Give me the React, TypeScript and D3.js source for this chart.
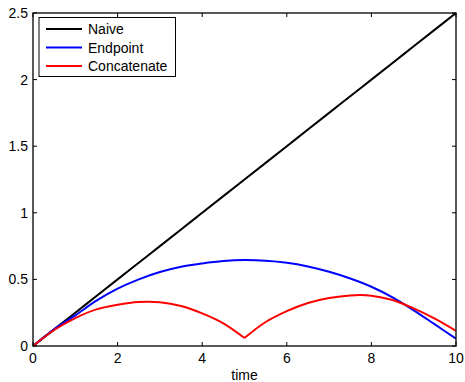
import React from "react";
import * as d3 from "d3";

const timeValues = [0, 0.5, 1, 1.5, 2, 2.5, 3, 3.5, 4, 4.5, 5, 5.5, 6, 6.5, 7, 7.5, 8, 8.5, 9, 9.5, 10];
const naiveValues = [0, 0.125, 0.25, 0.375, 0.5, 0.625, 0.75, 0.875, 1.0, 1.125, 1.25, 1.375, 1.5, 1.625, 1.75, 1.875, 2.0, 2.125, 2.25, 2.375, 2.5];
const endpointValues = [0, 0.125, 0.23, 0.34, 0.43, 0.5, 0.555, 0.595, 0.62, 0.638, 0.645, 0.64, 0.625, 0.597, 0.557, 0.507, 0.445, 0.365, 0.268, 0.162, 0.055];
const concatValues = [0, 0.12, 0.21, 0.275, 0.31, 0.33, 0.328, 0.3, 0.245, 0.17, 0.06, 0.18, 0.262, 0.323, 0.36, 0.38, 0.378, 0.345, 0.282, 0.205, 0.113];

const seriesNames = ["Naive", "Endpoint", "Concatenate"];
const seriesColors = ["#000000", "#0000ff", "#ff0000"];
const xTicks = [0, 2, 4, 6, 8, 10];
const yTicks = [0, 0.5, 1, 1.5, 2, 2.5];
const xLabel = "time";

const W = 465;
const H = 382;
const left = 33;
const right = 456;
const top = 13;
const bottom = 346;
const font = "Arial, 'Liberation Sans', Helvetica, sans-serif";

export default function App() {
  const x = d3.scaleLinear().domain([0, 10]).range([left, right]);
  const y = d3.scaleLinear().domain([0, 2.5]).range([bottom, top]);
  const line = d3
    .line<[number, number]>()
    .x((d) => x(d[0]))
    .y((d) => y(d[1]))
    .curve(d3.curveCatmullRom.alpha(0.5));
  const pts = (vals: number[]) => vals.map((v, i) => [timeValues[i], v] as [number, number]);
  const concatPts = pts(concatValues);
  const paths: { d: string; c: string }[] = [
    { d: line(pts(naiveValues)) || "", c: seriesColors[0] },
    { d: line(pts(endpointValues)) || "", c: seriesColors[1] },
    { d: (line(concatPts.filter((p) => p[0] <= 5)) || "") + (line(concatPts.filter((p) => p[0] >= 5)) || ""), c: seriesColors[2] },
  ];
  const tl = 4;

  return (
    <div style={{ position: "fixed", left: 0, top: 0 }}>
      <svg width={W} height={H} style={{ display: "block", background: "#fff" }}>
        <defs>
          <clipPath id="plot">
            <rect x={left} y={top} width={right - left} height={bottom - top} />
          </clipPath>
        </defs>
        <g clipPath="url(#plot)">
          {paths.map((p, k) => (
            <path key={k} d={p.d} fill="none" stroke={p.c} strokeWidth={2} strokeLinejoin="round" />
          ))}
        </g>
        {xTicks.map((t) => (
          <g key={"x" + t}>
            <line x1={x(t)} x2={x(t)} y1={bottom} y2={bottom - tl} stroke="#000" strokeWidth={1} />
            <line x1={x(t)} x2={x(t)} y1={top} y2={top + tl} stroke="#000" strokeWidth={1} />
            <text x={x(t)} y={363} textAnchor="middle" fontFamily={font} fontSize={14} fill="#000">
              {t}
            </text>
          </g>
        ))}
        {yTicks.map((t) => (
          <g key={"y" + t}>
            <line x1={left} x2={left + tl} y1={y(t)} y2={y(t)} stroke="#000" strokeWidth={1} />
            <line x1={right} x2={right - tl} y1={y(t)} y2={y(t)} stroke="#000" strokeWidth={1} />
            <text x={28} y={y(t) + 5} textAnchor="end" fontFamily={font} fontSize={14} fill="#000">
              {t}
            </text>
          </g>
        ))}
        <rect x={left} y={top} width={right - left} height={bottom - top} fill="none" stroke="#000" strokeWidth={1.3} />
        <text x={(left + right) / 2} y={380} textAnchor="middle" fontFamily={font} fontSize={14} fill="#000">
          {xLabel}
        </text>
        <rect x={39} y={17.5} width={136.5} height={59} fill="#fff" stroke="#000" strokeWidth={1} />
        {seriesNames.map((n, i) => {
          const cy = 29 + i * 18.5;
          return (
            <g key={n}>
              <line x1={46} x2={82} y1={cy} y2={cy} stroke={seriesColors[i]} strokeWidth={2} />
              <text x={88} y={cy + 5} fontFamily={font} fontSize={14} fill="#000">
                {n}
              </text>
            </g>
          );
        })}
      </svg>
    </div>
  );
}
